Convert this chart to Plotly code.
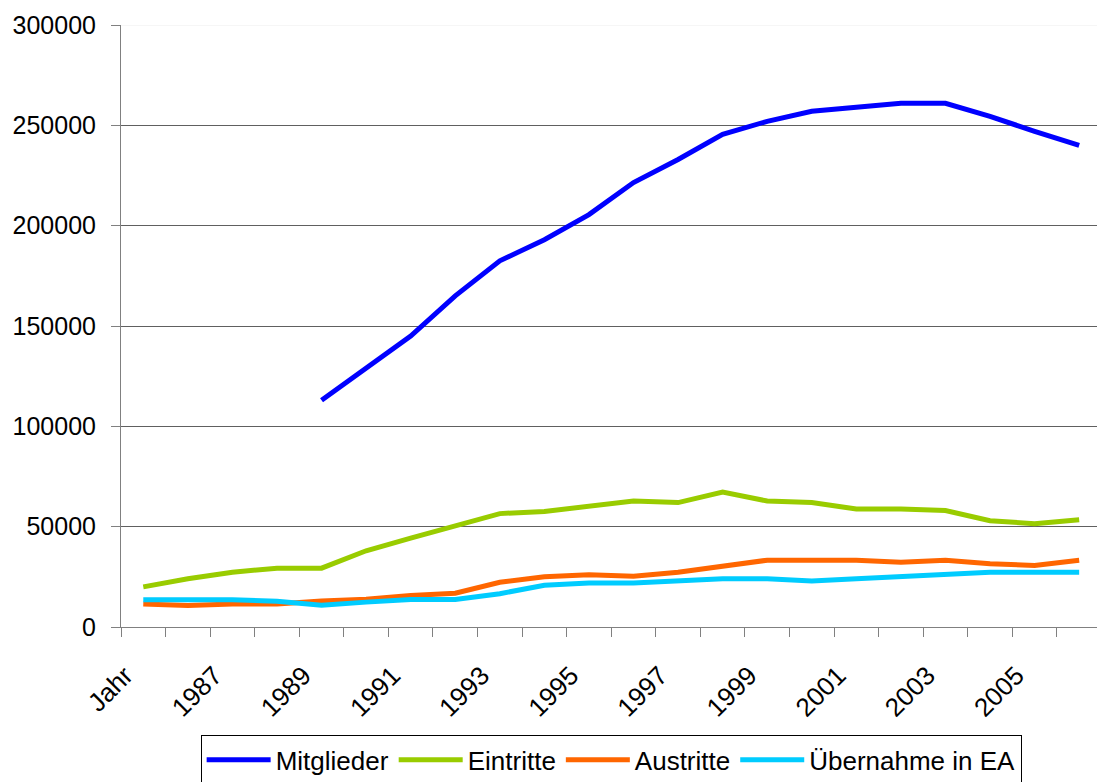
import plotly.graph_objects as go

categories = ["Jahr"] + [str(y) for y in range(1986, 2007)]

mitglieder = [None, None, None, None, 113000, 129000, 145000, 165000, 182500, 193000,
              205500, 221500, 233000, 245500, 252000, 257000, 259000, 261000, 261000,
              254500, 247000, 240000]
eintritte = [20000, 24000, 27300, 29300, 29300, 38000, 44300, 50500, 56500, 57600,
             60000, 62800, 62000, 67200, 62800, 62000, 58800, 58800, 58000, 53000,
             51500, 53500]
austritte = [11500, 10700, 11500, 11500, 13000, 13800, 15700, 16800, 22300, 25000,
             26000, 25300, 27300, 30500, 33300, 33300, 33300, 32300, 33300, 31500,
             30700, 33300]
uebernahme = [13600, 13600, 13600, 12800, 10800, 12400, 13700, 13700, 16600, 20800,
              21900, 21900, 23000, 24000, 24000, 22900, 24000, 25300, 26300, 27300,
              27300, 27300]

series = [
    ("Mitglieder", mitglieder, "#0000FF"),
    ("Eintritte", eintritte, "#99CC00"),
    ("Austritte", austritte, "#FF6600"),
    ("Übernahme in EA", uebernahme, "#00CCFF"),
]

x = list(range(len(categories)))
label_idx = list(range(0, len(categories), 2))

fig = go.Figure()
for name, vals, col in series:
    fig.add_trace(go.Scatter(x=x, y=vals, mode="lines", name=name,
                             line=dict(color=col, width=5), connectgaps=False))

FONT = "Liberation Sans, Arial, sans-serif"
fig.update_layout(
    width=1097, height=782,
    margin=dict(l=121, r=0, t=25, b=155, autoexpand=False),
    paper_bgcolor="white", plot_bgcolor="white",
    font=dict(family=FONT, size=25, color="black"),
    showlegend=True,
    legend=dict(orientation="h", x=0.0816, xanchor="left", y=-0.18, yanchor="top",
                bordercolor="black", borderwidth=1, bgcolor="white",
                font=dict(size=26), itemwidth=64, tracegroupgap=0),
)
fig.update_xaxes(
    range=[-0.5, 21.4], tickmode="array", tickvals=label_idx,
    ticktext=[categories[i] for i in label_idx], tickangle=-45,
    ticks="", showgrid=False, zeroline=False,
    showline=True, linecolor="#808080", linewidth=1,
    minor=dict(tickmode="linear", tick0=-0.5, dtick=1, ticks="outside",
               ticklen=9, tickcolor="#808080", showgrid=False),
    tickfont=dict(size=26), ticklabelstandoff=22, ticklabelshift=-18,
)
fig.update_yaxes(
    range=[0, 300000], tickmode="linear", tick0=0, dtick=50000,
    tickformat="d", ticks="outside", ticklen=9, tickcolor="#808080",
    showgrid=True, gridcolor="#606060", gridwidth=1, zeroline=False,
    showline=True, linecolor="#808080", linewidth=1,
    ticklabelstandoff=10, tickfont=dict(size=25),
)
fig.add_shape(type="line", xref="paper", yref="y", x0=0, x1=1, y0=300000, y1=300000,
              line=dict(color="#eeeeee", width=1), layer="above")

fig.write_html("out.html")
